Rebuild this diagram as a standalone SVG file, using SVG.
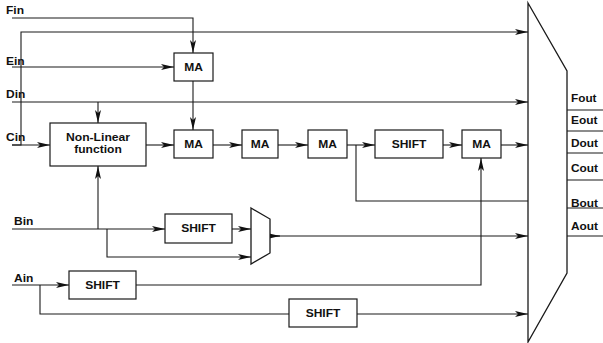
<svg xmlns="http://www.w3.org/2000/svg" width="603" height="343" viewBox="0 0 603 343">
<style>
.ln{fill:none;stroke:#1a1a1a;stroke-width:1.1}
.bx{fill:#fff;stroke:#1a1a1a;stroke-width:1.2}
.mx{fill:#fff;stroke:#1a1a1a;stroke-width:1.3}
text{font-family:"Liberation Sans",Arial,sans-serif;font-weight:bold;font-size:10px;fill:#111}
.c{text-anchor:middle}
</style>
<defs>
<marker id="arr" markerWidth="13" markerHeight="6" refX="13" refY="3" orient="auto" markerUnits="userSpaceOnUse">
<path d="M0,0 L13,3 L0,6 L3,3 z" fill="#111"/>
</marker>
</defs>
<rect width="603" height="343" fill="#fff"/>
<g id="connectors">
<path class="ln" d="M12,18 H193 V53" marker-end="url(#arr)"/>
<path class="ln" d="M12,145 H21 V32 H528" marker-end="url(#arr)"/>
<path class="ln" d="M12,145 H50" marker-end="url(#arr)"/>
<path class="ln" d="M12,67 H174" marker-end="url(#arr)"/>
<path class="ln" d="M12,102 H528" marker-end="url(#arr)"/>
<path class="ln" d="M98,102 V123" marker-end="url(#arr)"/>
<path class="ln" d="M193,81 V130" marker-end="url(#arr)"/>
<path class="ln" d="M146,145 H174" marker-end="url(#arr)"/>
<path class="ln" d="M213,145 H242" marker-end="url(#arr)"/>
<path class="ln" d="M278,145 H308" marker-end="url(#arr)"/>
<path class="ln" d="M347,145 H375" marker-end="url(#arr)"/>
<path class="ln" d="M443,145 H462" marker-end="url(#arr)"/>
<path class="ln" d="M501,145 H528" marker-end="url(#arr)"/>
<path class="ln" d="M356,145 V201 H528"/>
<path class="ln" d="M12,229 H165" marker-end="url(#arr)"/>
<path class="ln" d="M98,229 V166" marker-end="url(#arr)"/>
<path class="ln" d="M107,229 V257 H251" marker-end="url(#arr)"/>
<path class="ln" d="M232,229 H251" marker-end="url(#arr)"/>
<path class="ln" d="M270,236 H528" marker-end="url(#arr)"/>
<path class="ln" d="M265,236 H280" marker-end="url(#arr)"/>
<path class="ln" d="M12,285 H69" marker-end="url(#arr)"/>
<path class="ln" d="M136,285 H481 V158" marker-end="url(#arr)"/>
<path class="ln" d="M40,285 V314 H289"/>
<path class="ln" d="M357,314 H528" marker-end="url(#arr)"/>
<path class="ln" d="M567,110 H603 M567,131 H603 M567,153 H603 M567,180 H603 M567,208 H603 M567,236 H603"/>
</g>
<g id="inputs">
<text x="6" y="14" textLength="18" lengthAdjust="spacingAndGlyphs">Fin</text>
<text x="6" y="65" textLength="18.7" lengthAdjust="spacingAndGlyphs">Ein</text>
<text x="6" y="98" textLength="19.3" lengthAdjust="spacingAndGlyphs">Din</text>
<text x="6" y="141" textLength="19.3" lengthAdjust="spacingAndGlyphs">Cin</text>
<text x="14" y="225" textLength="19.3" lengthAdjust="spacingAndGlyphs">Bin</text>
<text x="14" y="282" textLength="19.3" lengthAdjust="spacingAndGlyphs">Ain</text>
</g>
<g id="ma1"><rect class="bx" x="174" y="53" width="39" height="28"/><text class="c" x="193.5" y="70.5" textLength="18.7" lengthAdjust="spacingAndGlyphs">MA</text></g>
<g id="nonlinear"><rect class="bx" x="50" y="123" width="96" height="43"/><text class="c" x="98" y="141" textLength="64" lengthAdjust="spacingAndGlyphs">Non-Linear</text><text class="c" x="98" y="153" textLength="47.5" lengthAdjust="spacingAndGlyphs">function</text></g>
<g id="ma2"><rect class="bx" x="174" y="130" width="39" height="28"/><text class="c" x="193.5" y="148" textLength="18.7" lengthAdjust="spacingAndGlyphs">MA</text></g>
<g id="ma3"><rect class="bx" x="242" y="130" width="36" height="28"/><text class="c" x="260" y="148" textLength="18.7" lengthAdjust="spacingAndGlyphs">MA</text></g>
<g id="ma4"><rect class="bx" x="308" y="130" width="39" height="28"/><text class="c" x="327.5" y="148" textLength="18.7" lengthAdjust="spacingAndGlyphs">MA</text></g>
<g id="shift1"><rect class="bx" x="375" y="130" width="68" height="28"/><text class="c" x="409" y="148" textLength="34.7" lengthAdjust="spacingAndGlyphs">SHIFT</text></g>
<g id="ma5"><rect class="bx" x="462" y="130" width="39" height="28"/><text class="c" x="481.5" y="148" textLength="18.7" lengthAdjust="spacingAndGlyphs">MA</text></g>
<g id="shift2"><rect class="bx" x="165" y="214" width="67" height="29"/><text class="c" x="198.5" y="232" textLength="34.7" lengthAdjust="spacingAndGlyphs">SHIFT</text></g>
<g id="mux2"><polygon class="mx" points="251,208 270,219 270,253 251,264"/></g>
<g id="shift3"><rect class="bx" x="69" y="271" width="67" height="28"/><text class="c" x="102.5" y="289" textLength="34.7" lengthAdjust="spacingAndGlyphs">SHIFT</text></g>
<g id="shift4"><rect class="bx" x="289" y="299" width="68" height="28"/><text class="c" x="323" y="317" textLength="34.7" lengthAdjust="spacingAndGlyphs">SHIFT</text></g>
<g id="mux"><polygon class="mx" points="528,3 567,71 567,273 528,342"/></g>
<g id="outputs">
<text x="571" y="102" textLength="25.5" lengthAdjust="spacingAndGlyphs">Fout</text>
<text x="571" y="124" textLength="26.5" lengthAdjust="spacingAndGlyphs">Eout</text>
<text x="571" y="147" textLength="27" lengthAdjust="spacingAndGlyphs">Dout</text>
<text x="571" y="172" textLength="27" lengthAdjust="spacingAndGlyphs">Cout</text>
<text x="571" y="207" textLength="27" lengthAdjust="spacingAndGlyphs">Bout</text>
<text x="571" y="230" textLength="27" lengthAdjust="spacingAndGlyphs">Aout</text>
</g>
</svg>
